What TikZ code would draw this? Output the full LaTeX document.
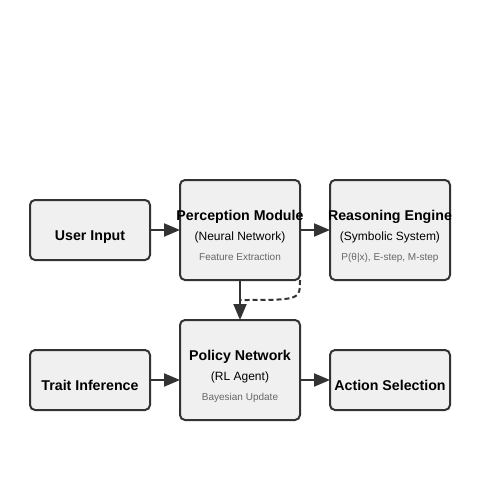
\documentclass[tikz,border=0pt]{standalone}
\usepackage{fontspec}
\setmainfont{Liberation Sans}
\usetikzlibrary{arrows.meta}
\definecolor{boxfill}{HTML}{F0F0F0}
\definecolor{boxline}{HTML}{333333}
\definecolor{notegray}{HTML}{666666}

\begin{document}
\begin{tikzpicture}[x=1pt, y=-1pt,
box/.style={rectangle, rounded corners=5pt, draw=boxline, fill=boxfill, line width=2pt, minimum width=120pt, outer sep=0pt, inner sep=0pt},
tallbox/.style={box, minimum height=100pt},
flatbox/.style={box, minimum height=60pt},
title/.style={anchor=base, inner sep=0pt, font=\fontsize{14.2}{16}\selectfont\bfseries},
sub/.style={anchor=base, inner sep=0pt, font=\fontsize{12}{14}\selectfont},
note/.style={anchor=base, inner sep=0pt, text=notegray, font=\fontsize{10}{12}\selectfont},
arrow/.style={draw=boxline, line width=2pt, -{Triangle[length=16pt, width=13pt]}}
]
    \useasboundingbox (0,0) rectangle (500,500);

    \node [flatbox] (user) at (90,230) {};
    \node [title] (user-t) at (90,240) {User Input};

    \node [tallbox] (percep) at (240,230) {};
    \node [title] (percep-t) at (240,220) {Perception Module};
    \node [sub] (percep-s) at (240,240) {(Neural Network)};
    \node [note] (percep-n) at (240,260) {Feature Extraction};

    \node [tallbox] (reason) at (390,230) {};
    \node [title] (reason-t) at (390,220) {Reasoning Engine};
    \node [sub] (reason-s) at (390,240) {(Symbolic System)};
    \node [note] (reason-n) at (390,260) {P(θ|x), E-step, M-step};

    \node [flatbox] (trait) at (90,380) {};
    \node [title] (trait-t) at (90,390) {Trait Inference};

    \node [tallbox] (policy) at (240,370) {};
    \node [title] (policy-t) at (240,360) {Policy Network};
    \node [sub] (policy-s) at (240,380) {(RL Agent)};
    \node [note] (policy-n) at (240,400) {Bayesian Update};

    \node [flatbox] (action) at (390,380) {};
    \node [title] (action-t) at (390,390) {Action Selection};

    \coordinate (merge) at (240,300);

    \draw [arrow] (user) -- (percep);
    \draw [arrow] (percep) -- (reason);
    \draw [arrow] (percep) -- (policy);
    \draw [arrow] (trait.east) -- (trait.east -| policy.west);
    \draw [arrow] (action.west -| policy.east) -- (action.west);
    \draw [draw=boxline, line width=2pt, dash pattern=on 5pt off 3pt] (percep.south east) .. controls (300,300) .. (merge);
\end{tikzpicture}
\end{document}
